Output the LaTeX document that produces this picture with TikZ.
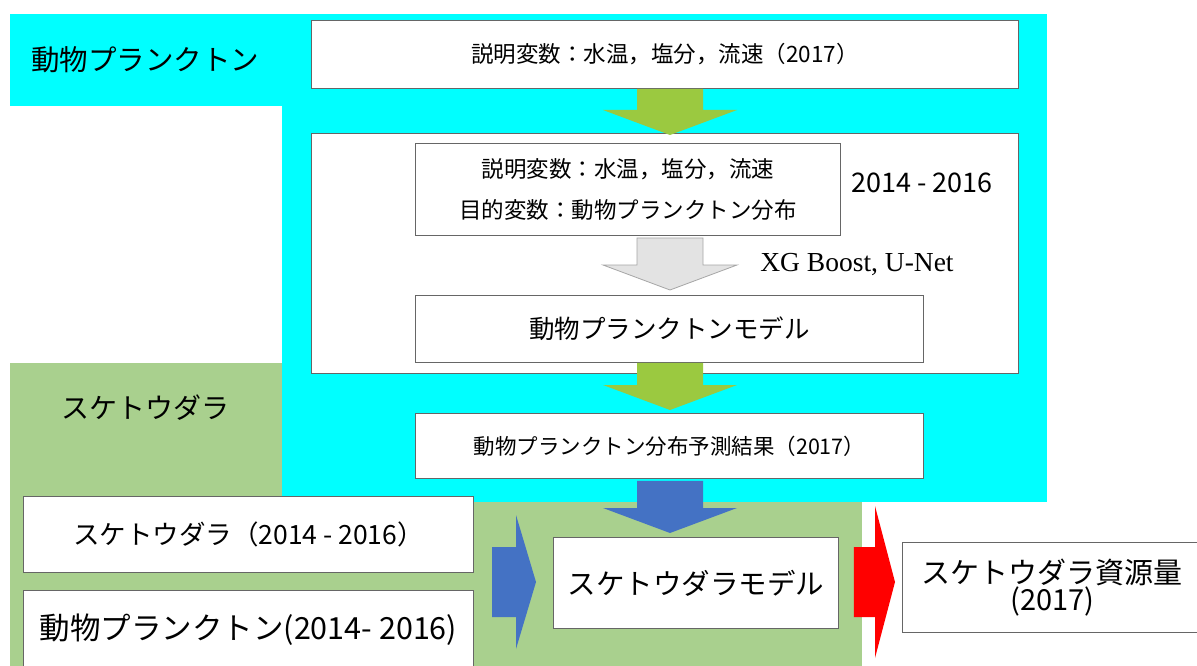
\documentclass[tikz,border=0pt]{standalone}
\usepackage{fontspec}
\setmainfont{Noto Sans CJK JP}
\newfontfamily\tnr{Liberation Serif}
\usetikzlibrary{calc}
\definecolor{cyanbg}{HTML}{00FFFF}
\definecolor{greenbg}{HTML}{A9D08E}
\definecolor{arrgreen}{HTML}{9BC940}
\definecolor{arrgray}{HTML}{E3E3E3}
\definecolor{arrblue}{HTML}{4472C4}
\definecolor{arrred}{HTML}{FF0000}
\newcommand\fs[1]{\fontsize{#1}{#1}\selectfont}
\newcommand\dnarr[3]{%
  \path[#1] ($(#2)+(-33,0)$) -- ($(#2)+(33,0)$) -- ($(#3)+(33,-25)$) -- ($(#3)+(67,-25)$)
    -- (#3) -- ($(#3)+(-67,-25)$) -- ($(#3)+(-33,-25)$) -- cycle;}
\newcommand\rtarr[5]{% style, from, tip, head half-height, shaft half-height
  \path[#1] ($(#2)+(0,-#5)$) -- ($(#3)+(-20,-#5)$) -- ($(#3)+(-20,-#4)$) -- (#3)
    -- ($(#3)+(-20,#4)$) -- ($(#3)+(-20,#5)$) -- ($(#2)+(0,#5)$) -- cycle;}
\begin{document}
\begin{tikzpicture}[x=1pt,y=-1pt,
  box/.style={draw=black!60, fill=white, line width=0.9pt, inner sep=0pt, anchor=north west, align=center},
  lbl/.style={inner sep=0pt, align=center}]
\useasboundingbox (0,0) rectangle (1197,666);
% backgrounds
\fill[greenbg] (10,363) rectangle (862,666);
\fill[cyanbg] (10,14) rectangle (282,106);
\fill[cyanbg] (282,14) rectangle (1047,502);
\node[lbl] (zlabel) at (145,60) {\fs{28.5}動物プランクトン};
\node[lbl] (slabel) at (145,408) {\fs{28}スケトウダラ};
% plankton part
\node[box, minimum width=707, minimum height=68] (top) at (311,20) {\fs{22.5}説明変数：水温，塩分，流速（2017）};
\node[box, minimum width=707, minimum height=240] (big) at (311,133) {};
\node[box, minimum width=425, minimum height=92] (vars) at (415,143)
  {\fs{22.5}説明変数：水温，塩分，流速\\[18pt]\fs{22.5}目的変数：動物プランクトン分布};
\node[lbl] (years) at (922,183) {\fs{27}2014 - 2016};
\node[box, minimum width=508, minimum height=67] (zmodel) at (415,295) {\fs{25.5}動物プランクトンモデル};
\node[lbl] (xgb) at (857,265) {\tnr\fs{27.5}XG Boost, U-Net};
\node[box, minimum width=508, minimum height=65] (pred) at (415,413) {\fs{21.5}動物プランクトン分布予測結果（2017）};
% fish part
\node[box, minimum width=450, minimum height=76] (fish) at (23,496) {\fs{26.5}スケトウダラ（2014 - 2016）};
\node[box, minimum width=450, minimum height=78] (zoo) at (23,590) {\fs{30.5}動物プランクトン(2014- 2016)};
\node[box, minimum width=285, minimum height=91] (fmodel) at (553,537) {\fs{28.5}スケトウダラモデル};
\node[box, minimum width=300, minimum height=90] (res) at (902,542) {\fs{29}スケトウダラ資源量\\[0pt]\fs{29}(2017)};
% arrows
\coordinate (ax) at (670,0);
\coordinate (a1s) at (ax |- top.south);
\coordinate (a1e) at ($(ax |- big.north)+(0,2)$);
\dnarr{fill=arrgreen}{a1s}{a1e}
\coordinate (a2s) at ($(ax |- vars.south)+(0,2)$);
\coordinate (a2e) at ($(ax |- zmodel.north)+(0,-5)$);
\dnarr{fill=arrgray, draw=black!35, line width=0.8pt}{a2s}{a2e}
\coordinate (a3s) at (ax |- zmodel.south);
\coordinate (a3e) at ($(ax |- pred.north)+(0,-3)$);
\dnarr{fill=arrgreen}{a3s}{a3e}
\coordinate (a4s) at ($(ax |- pred.south)+(0,2)$);
\coordinate (a4e) at ($(ax |- fmodel.north)+(0,-4)$);
\dnarr{fill=arrblue}{a4s}{a4e}
\coordinate (a5s) at (492,582);
\coordinate (a5e) at ($(fmodel.west |- a5s)+(-17,0)$);
\rtarr{fill=arrblue}{a5s}{a5e}{67}{35}
\coordinate (a6s) at ($(fmodel.east |- a5s)+(15,0)$);
\coordinate (a6e) at ($(res.west |- a5s)+(-7,0)$);
\rtarr{fill=arrred}{a6s}{a6e}{76}{35}
\end{tikzpicture}
\end{document}
